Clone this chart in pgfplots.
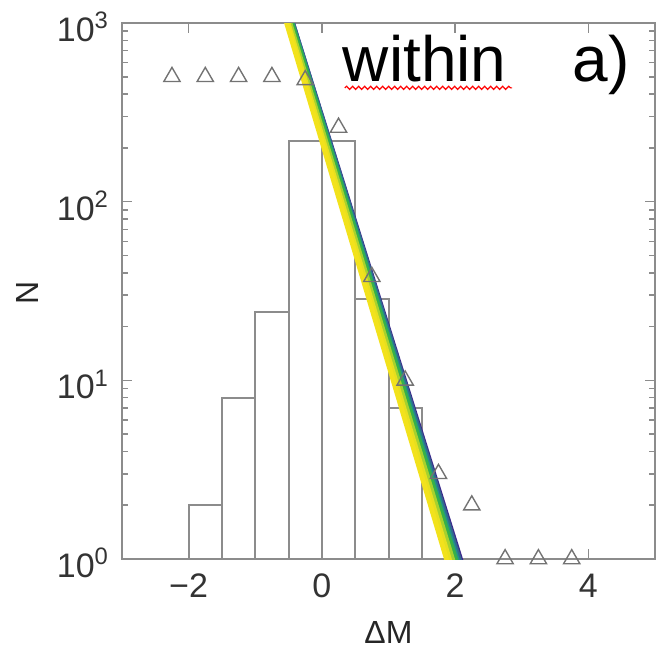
\documentclass[border=0pt]{standalone}
\usepackage{fontspec}
\setmainfont{Liberation Sans}
\usepackage{pgfplots}
\pgfplotsset{compat=1.18}
\usetikzlibrary{decorations.pathmorphing}
\definecolor{axgray}{HTML}{8C8C8C}
\definecolor{c0}{HTML}{3B2A8C}
\definecolor{c1}{HTML}{31688E}
\definecolor{c2}{HTML}{21918C}
\definecolor{c3}{HTML}{35B04A}
\definecolor{c4}{HTML}{A6D12E}
\definecolor{c5}{HTML}{F2E21C}
\begin{document}
\begin{tikzpicture}
\begin{axis}[
  scale only axis, width=266.5pt, height=268pt,
  xmin=-3, xmax=5, ymode=log, ymin=1, ymax=1000,
  xtick={-2,0,2,4}, xticklabels={−2,0,2,4},
  ytick={1,10,100,1000},
  yticklabels={10\textsuperscript{0},10\textsuperscript{1},10\textsuperscript{2},10\textsuperscript{3}},
  tick align=inside,
  axis line style={axgray, line width=1pt},
  major tick length=5pt, minor tick length=3pt,
  every tick/.style={axgray, line width=0.8pt},
  ticklabel style={font=\fontsize{17}{17}\selectfont, text=black!80},
  xticklabel style={yshift=-4pt},
  yticklabel style={xshift=-3pt, yshift=-2pt},
  xlabel={ΔM}, ylabel={N},
  label style={font=\fontsize{16}{16}\selectfont, text=black!85},
  xlabel style={at={(axis description cs:0.5,0)}, anchor=center, yshift=-36.5pt},
  ylabel style={at={(axis description cs:-0.178,0.497)}, anchor=center},
]
\addplot[ybar interval, draw=axgray, fill=white, line width=1pt]
  coordinates {(-2,2) (-1.5,8) (-1,24) (-0.5,218) (0,218) (0.5,28.5) (1,7) (1.5,7)};
\addplot[only marks, mark=triangle, mark size=4.7pt,
  mark options={draw=black!55, line width=0.7pt, fill=none}]
  coordinates {(-2.25,500) (-1.75,500) (-1.25,500) (-0.75,500) (-0.25,480)
  (0.25,260) (0.75,38) (1.25,10) (1.75,3) (2.25,2) (2.75,1) (3.25,1) (3.75,1)};
\addplot[no marks, line width=1.2pt, c0] coordinates {(-0.588,1584.9) (2.268,0.631)};
\addplot[no marks, line width=1.8pt, c1] coordinates {(-0.597,1584.9) (2.237,0.631)};
\addplot[no marks, line width=1.8pt, c2] coordinates {(-0.605,1584.9) (2.205,0.631)};
\addplot[no marks, line width=2.2pt, c3] coordinates {(-0.614,1584.9) (2.174,0.631)};
\addplot[no marks, line width=2.4pt, c4] coordinates {(-0.643,1584.9) (2.123,0.631)};
\addplot[no marks, line width=2.2pt, c5!85!c4] coordinates {(-0.666,1584.9) (2.077,0.631)};
\addplot[no marks, line width=2.4pt, c5] coordinates {(-0.690,1584.9) (2.030,0.631)};
\node[anchor=base, font=\fontsize{32}{32}\selectfont] at (axis description cs:0.568,0.89) {within};
\node[anchor=base, font=\fontsize{32}{32}\selectfont] at (axis description cs:0.899,0.89) {a)};
\draw[red, line width=0.6pt, decorate, decoration={snake, amplitude=0.8pt, segment length=3pt}]
  (axis description cs:0.418,0.879) -- (axis description cs:0.732,0.879);
\end{axis}
\pgfresetboundingbox
\path ([xshift=-61pt,yshift=-45.5pt]current axis.south west) rectangle ([xshift=1.5pt,yshift=11.5pt]current axis.north east);
\end{tikzpicture}
\end{document}
